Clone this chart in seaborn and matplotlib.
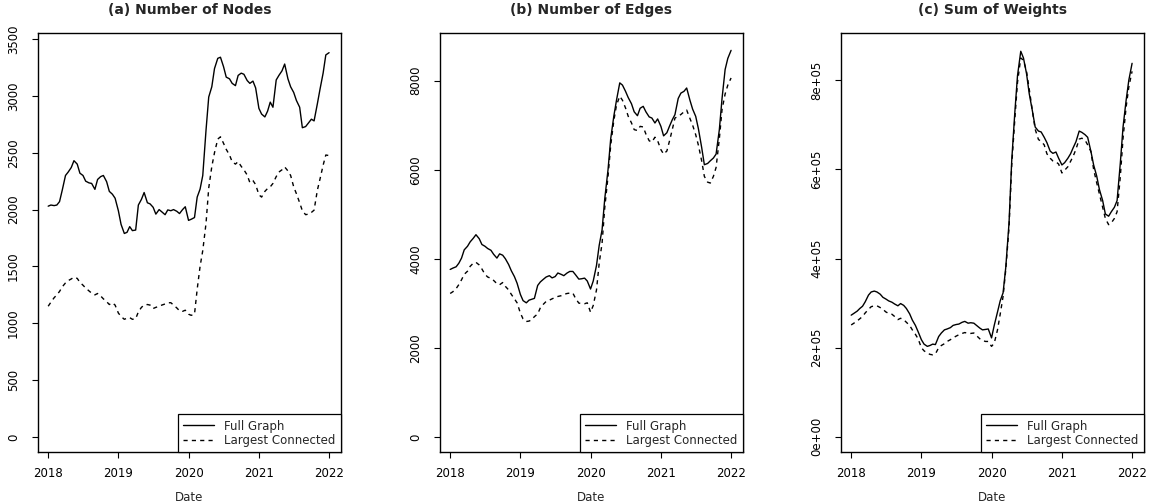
import pandas as pd
import numpy as np
import seaborn as sns
import matplotlib.pyplot as plt
import matplotlib.dates as mdates

# semi-monthly observation dates, Jan 2018 .. Jan 2022
dates = pd.date_range('2018-01-01', '2022-01-01', freq='SMS')

nodes_full = [
    2030, 2040, 2035, 2040, 2070, 2170, 2300, 2330, 2370, 2430, 2400, 2320,
    2300, 2250, 2235, 2230, 2178, 2265, 2290, 2300, 2245, 2160, 2135, 2100,
    1990, 1870, 1790, 1800, 1850, 1815, 1820, 2040, 2090, 2150, 2060, 2050,
    2020, 1960, 2000, 1980, 1955, 1997, 1990, 2000, 1985, 1965, 2000, 2025,
    1905, 1915, 1930, 2110, 2180, 2300, 2700, 2990, 3080, 3240, 3330, 3340,
    3257, 3165, 3150, 3110, 3090, 3180, 3200, 3190, 3135, 3110, 3130, 3070,
    2890, 2840, 2815, 2865, 2945, 2900, 3140, 3180, 3220, 3280, 3150, 3080,
    3030, 2960, 2900, 2720, 2730, 2760, 2795, 2780, 2930, 3060, 3200, 3360,
    3380]
nodes_lcc = [
    1150, 1185, 1225, 1250, 1280, 1320, 1355, 1375, 1390, 1405, 1395, 1360,
    1335, 1310, 1285, 1265, 1250, 1262, 1240, 1215, 1190, 1165, 1180, 1160,
    1090, 1060, 1035, 1045, 1050, 1035, 1040, 1100, 1140, 1160, 1165, 1160,
    1130, 1140, 1150, 1160, 1170, 1180, 1181, 1160, 1135, 1110, 1105, 1115,
    1080, 1070, 1080, 1300, 1500, 1640, 1880, 2190, 2378, 2500, 2620, 2640,
    2583, 2530, 2480, 2420, 2400, 2422, 2380, 2350, 2304, 2237, 2255, 2220,
    2130, 2110, 2160, 2185, 2200, 2230, 2290, 2330, 2350, 2375, 2340, 2300,
    2200, 2140, 2060, 1990, 1955, 1960, 1975, 1995, 2170, 2270, 2390, 2480,
    2475]

edges_full = [
    3760, 3790, 3820, 3900, 4015, 4200, 4280, 4380, 4460, 4540, 4450, 4320,
    4280, 4230, 4190, 4100, 4015, 4110, 4080, 4000, 3870, 3730, 3600, 3450,
    3200, 3060, 3010, 3070, 3090, 3110, 3400, 3480, 3540, 3590, 3620, 3570,
    3600, 3680, 3650, 3620, 3680, 3715, 3715, 3640, 3543, 3550, 3565, 3500,
    3320, 3500, 3850, 4300, 4650, 5350, 6000, 6700, 7200, 7560, 7950, 7900,
    7760, 7620, 7480, 7300, 7213, 7380, 7423, 7300, 7186, 7160, 7049, 7140,
    6973, 6760, 6830, 6980, 7120, 7236, 7600, 7720, 7760, 7835, 7560, 7360,
    7198, 6920, 6500, 6112, 6140, 6200, 6262, 6350, 6900, 7600, 8250, 8500,
    8680]
edges_lcc = [
    3220, 3260, 3330, 3420, 3528, 3650, 3720, 3830, 3900, 3920, 3860, 3770,
    3650, 3590, 3560, 3513, 3440, 3416, 3466, 3380, 3300, 3200, 3100, 3010,
    2780, 2650, 2591, 2600, 2629, 2700, 2760, 2900, 2980, 3041, 3070, 3100,
    3130, 3153, 3170, 3200, 3220, 3229, 3229, 3110, 3004, 2995, 2990, 3010,
    2800, 2950, 3300, 3900, 4350, 5150, 5850, 6550, 7100, 7450, 7650, 7560,
    7386, 7200, 7050, 6900, 6880, 6973, 6960, 6800, 6650, 6620, 6730, 6650,
    6450, 6350, 6420, 6650, 6898, 7160, 7200, 7240, 7300, 7340, 7150, 7000,
    6786, 6550, 6200, 5850, 5720, 5700, 5850, 6050, 6700, 7350, 7700, 7900,
    8060]

weights_full = [
    2.73, 2.77, 2.82, 2.88, 2.93, 3.03, 3.18, 3.25, 3.27, 3.25, 3.20, 3.13,
    3.09, 3.05, 3.02, 2.98, 2.94, 2.99, 2.95, 2.88, 2.76, 2.62, 2.50, 2.36,
    2.18, 2.08, 2.03, 2.05, 2.08, 2.07, 2.25, 2.33, 2.40, 2.42, 2.45, 2.50,
    2.52, 2.53, 2.57, 2.59, 2.55, 2.56, 2.55, 2.50, 2.44, 2.40, 2.41, 2.42,
    2.22, 2.50, 2.80, 3.05, 3.23, 3.80, 4.80, 6.20, 7.27, 8.10, 8.65, 8.50,
    8.15, 7.70, 7.30, 6.95, 6.86, 6.84, 6.72, 6.60, 6.41, 6.36, 6.39, 6.25,
    6.10, 6.15, 6.25, 6.35, 6.49, 6.62, 6.86, 6.83, 6.78, 6.72, 6.40, 6.10,
    5.85, 5.55, 5.30, 5.00, 4.95, 5.05, 5.15, 5.30, 6.15, 6.95, 7.55, 8.00,
    8.38]
weights_lcc = [
    2.51, 2.55, 2.60, 2.65, 2.70, 2.78, 2.86, 2.92, 2.94, 2.94, 2.90, 2.86,
    2.80, 2.77, 2.75, 2.70, 2.63, 2.66, 2.63, 2.57, 2.50, 2.40, 2.30, 2.20,
    2.00, 1.93, 1.88, 1.85, 1.84, 1.86, 2.00, 2.05, 2.09, 2.14, 2.18, 2.22,
    2.26, 2.29, 2.32, 2.34, 2.32, 2.32, 2.33, 2.27, 2.20, 2.16, 2.14, 2.14,
    2.03, 2.10, 2.40, 2.75, 3.15, 3.75, 4.70, 6.10, 7.12, 7.95, 8.50, 8.45,
    8.20, 7.80, 7.30, 6.90, 6.67, 6.63, 6.55, 6.35, 6.25, 6.19, 6.17, 6.12,
    5.92, 5.98, 6.06, 6.18, 6.30, 6.45, 6.68, 6.70, 6.66, 6.55, 6.40, 6.00,
    5.70, 5.45, 5.15, 4.90, 4.76, 4.80, 4.90, 5.05, 5.85, 6.70, 7.40, 7.85,
    8.20]
weights_full = [v * 1e5 for v in weights_full]
weights_lcc = [v * 1e5 for v in weights_lcc]

series_names = ['Full Graph', 'Largest Connected']
titles = ['(a) Number of Nodes', '(b) Number of Edges', '(c) Sum of Weights']
yticks = [[0, 500, 1000, 1500, 2000, 2500, 3000, 3500],
          [0, 2000, 4000, 6000, 8000],
          [0, 2e5, 4e5, 6e5, 8e5]]
ytick_labels = [[str(t) for t in yticks[0]],
                [str(t) for t in yticks[1]],
                ['0e+00', '2e+05', '4e+05', '6e+05', '8e+05']]
ylims = [(-132, 3553), (-340, 9070), (-34000, 906000)]
panels = [(nodes_full, nodes_lcc), (edges_full, edges_lcc), (weights_full, weights_lcc)]

sns.set_style('white')
plt.rcParams['font.family'] = ['DejaVu Sans']

fig = plt.figure(figsize=(11.5, 5.04), dpi=100)
lefts = [38 / 1150, 440 / 1150, 841 / 1150]
xlim = (pd.Timestamp('2017-11-09'), pd.Timestamp('2022-03-04'))

for i, (full, lcc) in enumerate(panels):
    ax = fig.add_axes([lefts[i], 52 / 504, 303 / 1150, 419 / 504])
    df = pd.DataFrame({
        'Date': np.concatenate([dates, dates]),
        'value': full + lcc,
        'series': [series_names[0]] * len(dates) + [series_names[1]] * len(dates),
    })
    sns.lineplot(data=df, x='Date', y='value', style='series', style_order=series_names,
                 dashes={'Full Graph': '', 'Largest Connected': (3, 3)},
                 color='black', linewidth=1.0, ax=ax, legend=False)

    ax.set_xlim(xlim)
    ax.set_ylim(ylims[i])
    ax.xaxis.set_major_locator(mdates.YearLocator())
    ax.xaxis.set_major_formatter(mdates.DateFormatter('%Y'))
    ax.set_yticks(yticks[i])
    ax.set_yticklabels(ytick_labels[i])
    ax.tick_params(axis='both', direction='out', length=4, width=0.8, color='black',
                   labelsize=8.5, labelcolor='black', left=True, bottom=True)
    ax.tick_params(axis='x', pad=7)
    ax.tick_params(axis='y', pad=9, labelrotation=90)
    for lab in ax.get_yticklabels():
        lab.set_va('center')

    for sp in ax.spines.values():
        sp.set_visible(True)
        sp.set_color('black')
        sp.set_linewidth(1.0)

    ax.set_title(titles[i], fontsize=10, fontweight='bold', pad=14)
    ax.set_xlabel('Date', fontsize=8.5, labelpad=8)
    ax.set_ylabel('')

    leg = ax.legend(ax.get_lines()[:2], series_names, loc='lower right',
                    borderaxespad=0, fontsize=8.5, frameon=True, fancybox=False,
                    edgecolor='black', framealpha=1, handlelength=2.6,
                    handletextpad=0.9, labelspacing=0.1, borderpad=0.45)
    leg.get_frame().set_linewidth(0.9)

fig.savefig('out.png', dpi=100)
